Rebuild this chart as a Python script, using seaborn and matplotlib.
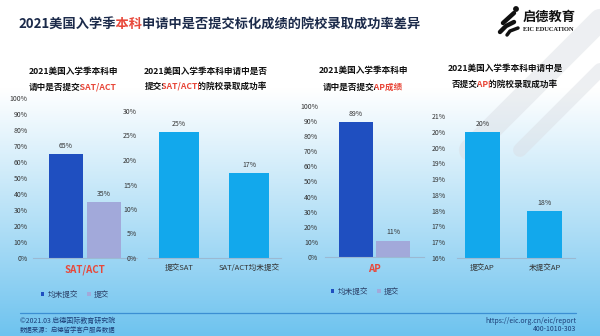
import numpy as np
import pandas as pd
import matplotlib
matplotlib.use("Agg")
import matplotlib.pyplot as plt
import seaborn as sns
from matplotlib.patches import Circle
from matplotlib.transforms import Bbox

sns.set_theme(style="white")
plt.rcParams['font.family'] = ['Noto Sans CJK SC', 'DejaVu Sans']

# ---------------- data ----------------
title_parts = [("2021美国入学季", "#1b2a4a"), ("本科", "#e8483a"),
               ("申请中是否提交标化成绩的院校录取成功率差异", "#1b2a4a")]

legend_labels = ["均未提交", "提交"]

cat1 = ["SAT/ACT"]
sat_share = [65, 35]
sat_share_labels = ["65%", "35%"]

cat2 = ["提交SAT", "SAT/ACT均未提交"]
sat_rate = [25.7, 17.3]
sat_rate_labels = ["25%", "17%"]

cat3 = ["AP"]
ap_share = [89, 11]
ap_share_labels = ["89%", "11%"]

cat4 = ["提交AP", "未提交AP"]
ap_rate = [20.0, 17.5]
ap_rate_labels = ["20%", "18%"]

ticks1 = list(range(0, 101, 10))
ticks2 = list(range(0, 31, 5))
ticks4 = [16.0, 16.5, 17.0, 17.5, 18.0, 18.5, 19.0, 19.5, 20.0, 20.5]
ticks4_labels = ["16%", "17%", "17%", "18%", "18%", "19%", "19%", "20%", "20%", "21%"]

sub1 = [[("2021美国入学季本科申", "#111111")], [("请中是否提交", "#111111"), ("SAT/ACT", "#e8483a")]]
sub2 = [[("2021美国入学季本科申请中是否", "#111111")],
        [("提交", "#111111"), ("SAT/ACT", "#e8483a"), ("的院校录取成功率", "#111111")]]
sub3 = [[("2021美国入学季本科申", "#111111")], [("请中是否提交", "#111111"), ("AP成绩", "#e8483a")]]
sub4 = [[("2021美国入学季本科申请中是", "#111111")],
        [("否提交", "#111111"), ("AP", "#e8483a"), ("的院校录取成功率", "#111111")]]

# ---------------- style ----------------
W, H = 600, 336
BLUE = "#1f4fc0"
LAV = "#a2a9da"
CYAN = "#12a8ec"
RED = "#e8483a"
TXT = "#333333"
BASE = "#9bb9d2"

fig = plt.figure(figsize=(6, 3.36), dpi=100)

# background gradient
bg = fig.add_axes([0, 0, 1, 1], zorder=-10)
t = np.linspace(0, 1, H)
top = np.array([1.0, 1.0, 1.0])
bot = np.array([0x6e, 0xc3, 0xef]) / 255
w = np.clip((t - 0.26) / 0.74, 0, 1) ** 1.05
img = (top[None, :] * (1 - w[:, None]) + bot[None, :] * w[:, None])[:, None, :]
bg.imshow(img, aspect="auto", extent=[0, W, H, 0])
bg.set_xlim(0, W)
bg.set_ylim(H, 0)
bg.axis("off")

# faint decorative swooshes at top right
for (x0, y0, x1, y1, lw) in [(600, 20, 470, 150, 16), (600, 70, 520, 150, 10)]:
    bg.plot([x0, x1], [y0, y1], color="#d9dde3", lw=lw, alpha=0.45, solid_capstyle="round")


def axpos(l, r, t_, b):
    return [l / W, 1 - b / H, (r - l) / W, (b - t_) / H]


def style_ax(ax, pad):
    ax.set_facecolor("none")
    for s in ["top", "right", "left"]:
        ax.spines[s].set_visible(False)
    ax.spines["bottom"].set_color(BASE)
    ax.spines["bottom"].set_linewidth(0.8)
    ax.tick_params(axis="both", length=0)
    ax.tick_params(axis="y", pad=pad, labelsize=5, labelcolor=TXT)
    ax.set_xlabel("")
    ax.set_ylabel("")
    ax.grid(False)


bar_kw = dict(saturation=1, linewidth=0, edgecolor="none")

# chart 1
ax1 = fig.add_axes(axpos(32.75, 137.25, 98.3, 258))
df1 = pd.DataFrame({"cat": cat1 * 2, "status": legend_labels, "value": sat_share})
sns.barplot(data=df1, x="cat", y="value", hue="status", palette=[BLUE, LAV],
            width=0.8, gap=0.1, ax=ax1, legend=True, **bar_kw)
ax1.set_ylim(0, 100)
ax1.set_xlim(-0.55, 0.55)
ax1.set_yticks(ticks1)
ax1.set_yticklabels([f"{v}%" for v in ticks1])
style_ax(ax1, 3.6)
ax1.tick_params(axis="x", pad=5, labelsize=7, labelcolor=RED)
for lab in ax1.get_xticklabels():
    lab.set_fontweight("bold")
for c, lab in zip(ax1.containers, sat_share_labels):
    ax1.bar_label(c, labels=[lab], padding=3, fontsize=5, color=TXT)
sns.move_legend(ax1, "center", bbox_to_anchor=(75 / W, 1 - 295 / H), bbox_transform=fig.transFigure,
                ncol=2, frameon=False, title=None, fontsize=5.5, handlelength=0.5, handleheight=0.5,
                columnspacing=1.2, handletextpad=0.4, labelcolor="#2b3f66")

# chart 2
ax2 = fig.add_axes(axpos(147.5, 280.5, 111, 258))
sns.barplot(x=cat2, y=sat_rate, color=CYAN, width=0.57, ax=ax2, **bar_kw)
ax2.set_ylim(0, 30)
ax2.set_xlim(-0.45, 1.45)
ax2.set_yticks(ticks2)
ax2.set_yticklabels([f"{v}%" for v in ticks2])
style_ax(ax2, 7.5)
ax2.tick_params(axis="x", pad=4, labelsize=5.5, labelcolor=TXT)
ax2.bar_label(ax2.containers[0], labels=sat_rate_labels, padding=3, fontsize=5, color=TXT)

# chart 3
ax3 = fig.add_axes(axpos(324.7, 424.3, 105.7, 257.3))
df3 = pd.DataFrame({"cat": cat3 * 2, "status": legend_labels, "value": ap_share})
sns.barplot(data=df3, x="cat", y="value", hue="status", palette=[BLUE, LAV],
            width=0.8, gap=0.1, ax=ax3, legend=True, **bar_kw)
ax3.set_ylim(0, 100)
ax3.set_xlim(-0.53, 0.53)
ax3.set_yticks(ticks1)
ax3.set_yticklabels([f"{v}%" for v in ticks1])
style_ax(ax3, 4.8)
ax3.tick_params(axis="x", pad=5, labelsize=7, labelcolor=RED)
for lab in ax3.get_xticklabels():
    lab.set_fontweight("bold")
for c, lab in zip(ax3.containers, ap_share_labels):
    ax3.bar_label(c, labels=[lab], padding=3, fontsize=5, color=TXT)
sns.move_legend(ax3, "center", bbox_to_anchor=(365 / W, 1 - 292 / H), bbox_transform=fig.transFigure,
                ncol=2, frameon=False, title=None, fontsize=5.5, handlelength=0.5, handleheight=0.5,
                columnspacing=1.2, handletextpad=0.4, labelcolor="#2b3f66")

# chart 4
ax4 = fig.add_axes(axpos(457, 574.9, 116, 258))
sns.barplot(x=cat4, y=ap_rate, color=CYAN, width=0.56, ax=ax4, **bar_kw)
ax4.set_ylim(16, 20.5)
ax4.set_xlim(-0.41, 1.49)
ax4.set_yticks(ticks4)
ax4.set_yticklabels(ticks4_labels)
style_ax(ax4, 8)
ax4.tick_params(axis="x", pad=4, labelsize=5.5, labelcolor=TXT)
ax4.bar_label(ax4.containers[0], labels=ap_rate_labels, padding=3, fontsize=5, color=TXT)

# ---------------- texts ----------------
renderer = fig.canvas.get_renderer()


def text_width(s, size, weight):
    tt = fig.text(0, 0, s, fontsize=size, fontweight=weight)
    wd = tt.get_window_extent(renderer).width
    tt.remove()
    return wd


def seg_text(x_px, y_px, segs, size, weight="bold", ha="center"):
    """Draw the whole line once per colour, clipped to that colour's part,
    so the font's natural spacing is kept."""
    full = "".join(s for s, _ in segs)
    total = text_width(full, size, weight)
    x0 = x_px - total / 2 if ha == "center" else x_px
    prefix = ""
    for i, (s, c) in enumerate(segs):
        start = 0 if i == 0 else x0 + text_width(prefix, size, weight) + 0.6
        prefix += s
        end = W if i == len(segs) - 1 else x0 + text_width(prefix, size, weight) + 0.6
        tt = fig.text(x0 / W, 1 - y_px / H, full, fontsize=size, fontweight=weight, color=c,
                      va="center", ha="left")
        tt.set_clip_box(Bbox.from_extents(start, 0, end, H))
        tt.set_clip_on(True)


seg_text(18, 25, title_parts, 9.5, ha="left")

for segs, cx, y1, y2 in [(sub1, 73, 71, 87), (sub2, 206, 71, 87), (sub3, 363, 70, 87), (sub4, 505, 68, 84)]:
    seg_text(cx, y1, segs[0], 6.2)
    seg_text(cx, y2, segs[1], 6.2)

# logo
fig.text(523 / W, 1 - 17 / H, "启德教育", fontsize=9.5, fontweight="bold", color="#111111", va="center")
fig.text(523 / W, 1 - 29.5 / H, "EIC EDUCATION", fontsize=4.6, fontweight="bold", color="#111111",
         va="center", family="Liberation Serif")
bg.plot([503, 514], [23, 13], color="#111111", lw=3.2, solid_capstyle="round")
bg.plot([500, 506, 514], [32, 26, 22], color="#111111", lw=3.2, solid_capstyle="round")
bg.plot([507, 510, 518], [35, 31, 28], color="#111111", lw=2.5, solid_capstyle="round")
bg.add_patch(Circle((516, 9), 2.2, color="#111111"))

# footer
bg.plot([20, 576], [313, 313], color="#3b8fd3", lw=0.9)
fig.text(20 / W, 1 - 321 / H, "©2021.03 启德国际教育研究院", fontsize=5, color="#1d3f78", va="center")
fig.text(20 / W, 1 - 330 / H, "数据来源：启德留学客户服务数据", fontsize=4.6, color="#1d3f78", va="center")
fig.text(576 / W, 1 - 321 / H, "https://eic.org.cn/eic/report", fontsize=5, color="#1d3f78",
         va="center", ha="right")
fig.text(576 / W, 1 - 329 / H, "400-1010-303", fontsize=5, color="#1d3f78", va="center", ha="right")

fig.savefig("out.png", dpi=100)
